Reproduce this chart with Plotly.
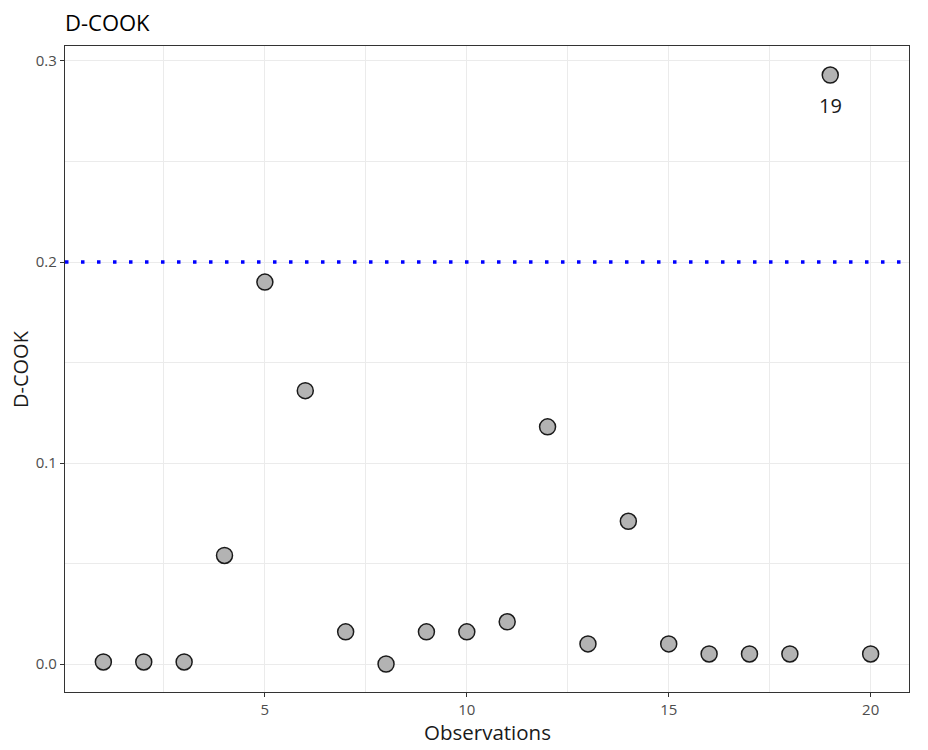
import plotly.graph_objects as go

obs = list(range(1, 21))
dcook = [0.001, 0.001, 0.001, 0.054, 0.190, 0.136, 0.016, 0.000, 0.016, 0.016,
         0.021, 0.118, 0.010, 0.071, 0.010, 0.005, 0.005, 0.005, 0.293, 0.005]
threshold = 0.2
label_obs = 19
x_ticks = [5, 10, 15, 20]
y_ticks = [0.0, 0.1, 0.2, 0.3]
y_tick_text = ["0.0", "0.1", "0.2", "0.3"]

FONT = "Open Sans"
W, H = 920, 742  # page has 8px body margin

fig = go.Figure()
fig.add_trace(go.Scatter(
    x=obs, y=dcook, mode="markers",
    marker=dict(size=16, color="#b3b3b3", line=dict(color="#1a1a1a", width=1.5)),
    showlegend=False, hoverinfo="x+y",
))

fig.add_shape(type="line", xref="paper", x0=0, x1=1, yref="y", y0=threshold, y1=threshold,
              line=dict(color="#0000ff", width=3.5, dash="3.5px,12.5px"), layer="above")

fig.add_annotation(x=label_obs, y=dcook[label_obs - 1], text=str(label_obs), showarrow=False,
                   yanchor="middle", yshift=-30, font=dict(family=FONT, size=20, color="#1a1a1a"))

# axis titles
fig.add_annotation(xref="paper", yref="paper", x=0.5, y=0, text="Observations", showarrow=False,
                   xanchor="center", yanchor="middle", yshift=-40,
                   font=dict(family=FONT, size=20.5, color="#1a1a1a"))
fig.add_annotation(xref="paper", yref="paper", x=0, y=0.5, text="D-COOK", showarrow=False,
                   textangle=-90, xanchor="center", yanchor="middle", xshift=-45,
                   font=dict(family=FONT, size=20, color="#1a1a1a"))

grid = "#ebebeb"
fig.update_layout(
    width=W, height=H,
    margin=dict(l=57, r=19, t=38, b=58),
    paper_bgcolor="white", plot_bgcolor="white",
    font=dict(family=FONT),
    title=dict(text="D-COOK", x=57/W, xanchor="left", y=1 - 15/H, yanchor="middle",
               font=dict(family=FONT, size=22, color="#000000")),
    xaxis=dict(
        range=[0.05, 20.95], tickvals=x_ticks, ticks="outside", ticklen=4, tickwidth=1.2,
        tickcolor="#333333", tickfont=dict(family=FONT, size=15, color="#4d4d4d"),
        showgrid=True, gridcolor=grid, gridwidth=1.2, automargin=False,
        minor=dict(tickvals=[2.5, 7.5, 12.5, 17.5], showgrid=True, gridcolor=grid, gridwidth=0.8, ticks=""),
        showline=True, linecolor="#333333", linewidth=1.2, mirror=True, zeroline=False,
    ),
    yaxis=dict(
        range=[-0.01393, 0.30746], tickvals=y_ticks, ticktext=y_tick_text, ticks="outside", ticklen=4,
        tickwidth=1.2, tickcolor="#333333", tickfont=dict(family=FONT, size=15, color="#4d4d4d"),
        showgrid=True, gridcolor=grid, gridwidth=1.2, automargin=False,
        minor=dict(tickvals=[0.05, 0.15, 0.25], showgrid=True, gridcolor=grid, gridwidth=0.8, ticks=""),
        showline=True, linecolor="#333333", linewidth=1.2, mirror=True, zeroline=False,
    ),
)

fig.write_html("out.html")
